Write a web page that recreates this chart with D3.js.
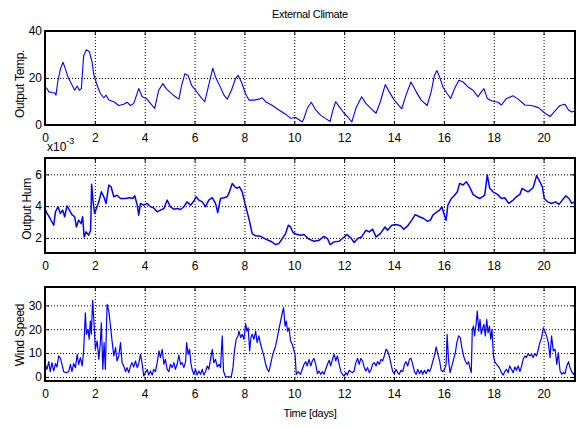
<!DOCTYPE html>
<html>
<head>
<meta charset="utf-8">
<script src="https://cdn.jsdelivr.net/npm/d3@7"></script>
<style>
  body { margin: 0; background: #fff; }
  text { font-family: Arial, "Liberation Sans", sans-serif; }
</style>
</head>
<body>
<div id="chart"></div>
<script>
// ---- data ----
const xTicks = [0, 2, 4, 6, 8, 10, 12, 14, 16, 18, 20];
const tempTicks = [0, 20, 40];
const humTicks = [2, 4, 6];          // units of 1e-3
const windTicks = [0, 10, 20, 30];

// [day, value]
const tempData = [
  [0.00,16.2],[0.08,15.5],[0.15,14.1],[0.28,13.8],[0.39,13.6],[0.44,12.7],[0.51,18.3],[0.62,23.9],[0.72,26.7],[0.82,23.9],
  [0.92,20.4],[1.06,17.6],[1.19,14.8],[1.29,16.6],[1.38,14.8],[1.46,15.5],[1.55,29.5],[1.66,32.0],[1.78,31.2],[1.89,26.7],
  [1.95,21.8],[2.09,16.9],[2.22,13.4],[2.36,11.6],[2.45,12.7],[2.56,10.6],[2.76,9.9],[2.96,8.3],[3.16,8.8],[3.29,9.7],
  [3.43,8.3],[3.56,9.2],[3.76,15.5],[3.90,12.0],[4.06,11.3],[4.23,9.2],[4.40,7.1],[4.56,14.8],[4.73,17.6],[4.86,15.5],
  [5.03,13.8],[5.23,12.0],[5.37,11.0],[5.48,16.9],[5.61,21.8],[5.74,21.1],[5.88,16.9],[6.04,14.8],[6.24,12.0],[6.41,9.9],
  [6.55,16.2],[6.73,24.2],[6.84,20.4],[6.97,17.6],[7.18,12.7],[7.31,11.0],[7.48,14.8],[7.64,19.7],[7.75,21.1],[7.88,18.3],
  [8.04,13.4],[8.18,10.6],[8.38,10.6],[8.58,11.0],[8.71,11.6],[8.85,9.9],[9.12,8.3],[9.38,6.4],[9.65,4.6],[9.85,2.9],
  [10.05,3.2],[10.19,2.2],[10.32,1.3],[10.39,2.9],[10.52,7.1],[10.68,9.7],[10.86,6.4],[11.06,4.1],[11.26,2.7],[11.44,1.5],
  [11.53,5.7],[11.66,9.9],[11.80,7.8],[12.00,5.0],[12.16,3.2],[12.31,1.3],[12.47,7.1],[12.70,12.0],[12.87,9.2],[13.07,7.1],
  [13.28,5.0],[13.45,9.9],[13.65,17.2],[13.81,14.1],[14.01,10.6],[14.31,6.9],[14.48,12.7],[14.68,18.3],[14.89,14.1],[15.09,10.6],
  [15.33,8.3],[15.49,14.1],[15.62,21.1],[15.72,23.2],[15.83,20.4],[15.96,16.2],[16.13,13.4],[16.27,11.3],[16.43,15.5],[16.60,19.0],
  [16.77,18.3],[16.97,16.2],[17.17,14.8],[17.37,12.0],[17.50,14.1],[17.61,15.5],[17.74,11.3],[17.93,10.2],[18.17,9.7],[18.31,8.5],
  [18.51,11.3],[18.78,12.4],[18.98,11.0],[19.25,8.5],[19.52,8.3],[19.79,7.4],[20.06,5.0],[20.26,3.6],[20.46,6.0],[20.66,8.3],
  [20.86,8.8],[21.00,6.4],[21.13,5.5],[21.24,6.0]
];

// humidity in units of 1e-3
const humData = [
  [0.00,3.85],[0.08,3.54],[0.17,3.33],[0.28,3.0],[0.35,2.8],[0.42,3.64],[0.52,3.96],[0.62,3.54],[0.71,3.75],[0.79,3.33],
  [0.88,4.02],[0.98,3.75],[1.08,3.47],[1.19,3.33],[1.26,2.69],[1.35,3.12],[1.45,2.9],[1.51,3.33],[1.57,2.06],[1.65,2.38],
  [1.75,2.17],[1.83,2.48],[1.87,5.37],[1.93,4.27],[1.99,3.54],[2.06,3.85],[2.16,4.27],[2.26,4.9],[2.36,4.59],[2.45,4.17],
  [2.56,5.33],[2.65,5.22],[2.76,4.59],[2.89,4.69],[3.03,4.48],[3.23,4.48],[3.39,4.53],[3.52,4.48],[3.60,4.65],[3.70,4.06],
  [3.76,3.43],[3.83,4.17],[3.96,4.06],[4.10,4.17],[4.23,3.96],[4.36,3.89],[4.50,3.64],[4.63,3.75],[4.77,3.85],[4.90,4.38],
  [5.03,3.96],[5.17,3.81],[5.30,3.85],[5.44,3.79],[5.57,3.96],[5.70,4.27],[5.84,4.06],[5.97,4.32],[6.06,4.59],[6.17,4.38],
  [6.31,4.27],[6.44,3.96],[6.57,4.38],[6.71,4.53],[6.84,4.17],[6.93,3.6],[7.04,4.48],[7.18,4.53],[7.31,4.59],[7.40,4.9],
  [7.51,5.43],[7.62,5.22],[7.71,5.12],[7.80,5.22],[7.91,4.9],[8.02,4.17],[8.11,3.64],[8.21,3.01],[8.31,2.27],[8.45,2.13],
  [8.65,2.1],[8.85,1.92],[9.05,1.79],[9.25,1.58],[9.38,1.64],[9.52,1.96],[9.65,2.27],[9.76,2.8],[9.85,2.69],[9.95,2.34],
  [10.12,2.21],[10.25,2.17],[10.39,2.21],[10.59,1.92],[10.79,1.79],[10.99,1.85],[11.19,2.1],[11.33,1.96],[11.44,1.58],[11.60,1.75],
  [11.80,1.79],[12.00,2.06],[12.11,2.21],[12.27,2.0],[12.40,1.71],[12.54,1.96],[12.70,2.06],[12.87,2.48],[13.01,2.38],[13.14,2.55],
  [13.28,2.06],[13.45,2.27],[13.64,2.69],[13.74,2.48],[13.91,2.8],[14.08,2.84],[14.26,2.76],[14.39,2.55],[14.55,2.76],[14.71,3.12],
  [14.85,3.47],[15.02,3.33],[15.19,3.22],[15.33,3.05],[15.46,3.12],[15.56,3.43],[15.69,3.6],[15.83,3.75],[15.92,3.96],[16.00,3.54],
  [16.09,3.12],[16.16,4.06],[16.30,4.48],[16.43,4.69],[16.54,4.9],[16.63,5.43],[16.77,5.33],[16.90,5.54],[17.03,5.22],[17.17,4.74],
  [17.30,4.59],[17.44,4.48],[17.64,4.69],[17.74,5.96],[17.84,5.12],[17.97,4.9],[18.15,4.74],[18.31,4.48],[18.44,4.53],[18.60,4.17],
  [18.78,4.38],[18.91,4.59],[19.05,4.74],[19.14,5.12],[19.25,5.01],[19.38,4.9],[19.58,5.16],[19.72,5.92],[19.85,5.54],[19.95,5.22],
  [20.03,4.48],[20.16,4.27],[20.32,4.17],[20.48,4.27],[20.62,4.11],[20.75,4.38],[20.89,4.65],[21.02,4.48],[21.13,4.17],[21.24,4.27]
];

const windData = [
  [0.01,5.3],[0.08,3.2],[0.15,6.4],[0.21,2.2],[0.28,6.0],[0.35,2.5],[0.42,5.6],[0.48,4.2],[0.55,8.8],[0.62,7.8],
  [0.68,5.3],[0.75,2.2],[0.84,1.8],[0.95,2.2],[1.02,5.3],[1.08,2.2],[1.15,5.6],[1.22,3.9],[1.29,9.5],[1.35,5.3],
  [1.42,8.1],[1.49,4.6],[1.55,10.9],[1.62,26.9],[1.66,17.9],[1.73,19.9],[1.77,15.8],[1.82,23.4],[1.86,17.9],[1.91,32.1],
  [1.97,22.0],[2.02,11.6],[2.09,15.1],[2.16,7.4],[2.22,14.4],[2.26,22.7],[2.32,3.2],[2.37,14.4],[2.42,3.2],[2.49,30.4],
  [2.56,27.6],[2.62,22.0],[2.69,15.1],[2.76,8.8],[2.83,12.3],[2.89,6.7],[2.96,8.8],[3.03,14.4],[3.09,6.0],[3.16,4.6],
  [3.23,2.2],[3.29,3.9],[3.36,1.8],[3.43,4.6],[3.49,6.0],[3.56,4.2],[3.63,6.7],[3.70,3.9],[3.76,5.6],[3.83,9.5],
  [3.90,5.3],[3.96,0.4],[4.03,1.8],[4.10,3.2],[4.16,0.8],[4.23,2.5],[4.30,0.8],[4.36,3.2],[4.43,2.2],[4.50,6.0],
  [4.57,10.9],[4.63,8.1],[4.70,11.6],[4.77,5.3],[4.83,7.4],[4.90,3.2],[4.97,2.2],[5.03,5.3],[5.10,3.9],[5.17,6.0],
  [5.23,3.2],[5.30,5.3],[5.37,9.2],[5.44,5.3],[5.50,6.0],[5.57,3.9],[5.64,6.4],[5.68,14.4],[5.74,9.5],[5.80,11.6],
  [5.85,6.0],[5.90,3.2],[5.97,1.1],[6.04,3.2],[6.10,0.8],[6.17,2.5],[6.24,1.1],[6.31,3.2],[6.37,0.8],[6.44,2.2],
  [6.51,4.6],[6.57,3.2],[6.64,7.4],[6.71,11.6],[6.77,6.0],[6.84,7.4],[6.91,4.2],[6.98,5.3],[7.04,3.9],[7.11,17.2],
  [7.16,2.5],[7.24,0],[7.38,0],[7.47,0],[7.54,3.9],[7.60,10.9],[7.67,15.8],[7.74,17.2],[7.78,19.2],[7.85,16.5],
  [7.91,17.9],[7.98,15.8],[8.05,22.3],[8.10,19.2],[8.15,20.6],[8.21,10.9],[8.26,16.5],[8.31,17.9],[8.38,15.8],[8.45,19.2],
  [8.51,14.4],[8.58,17.2],[8.65,13.7],[8.72,10.9],[8.78,8.8],[8.85,5.3],[8.92,3.2],[8.98,2.2],[9.05,5.3],[9.12,8.8],
  [9.18,10.9],[9.25,13.0],[9.32,16.5],[9.38,19.9],[9.45,23.4],[9.52,26.9],[9.57,29.0],[9.63,21.3],[9.68,23.4],[9.73,19.2],
  [9.79,20.6],[9.85,15.1],[9.92,13.7],[9.99,10.9],[10.03,9.5],[10.08,1.1],[10.16,2.2],[10.25,1.1],
  [10.39,5.3],[10.46,6.4],[10.52,4.6],[10.59,7.4],[10.66,4.6],[10.72,6.7],[10.79,7.8],[10.86,5.3],[10.93,1.4],[10.99,2.5],
  [11.06,1.1],[11.13,2.2],[11.19,1.1],[11.26,3.2],[11.33,5.3],[11.40,7.0],[11.46,4.6],[11.53,7.4],[11.60,9.5],[11.66,6.7],
  [11.73,8.8],[11.80,5.3],[11.87,2.2],[11.93,1.1],[12.00,0.4],[12.07,1.8],[12.13,0.8],[12.20,2.8],[12.27,2.2],[12.34,1.8],
  [12.40,2.5],[12.47,6.0],[12.54,7.8],[12.60,5.3],[12.67,7.8],[12.74,6.7],[12.81,3.9],[12.87,2.5],[12.94,3.9],[13.01,1.8],
  [13.07,2.8],[13.14,5.3],[13.21,6.0],[13.28,4.6],[13.34,6.4],[13.41,5.3],[13.48,7.4],[13.54,6.7],[13.61,8.8],[13.68,11.6],
  [13.74,10.9],[13.81,8.8],[13.88,5.3],[13.95,2.2],[14.01,1.4],[14.08,3.2],[14.15,1.8],[14.21,1.1],[14.28,2.8],[14.35,2.2],
  [14.42,5.3],[14.48,6.4],[14.55,4.6],[14.62,7.4],[14.68,7.8],[14.75,5.3],[14.82,2.2],[14.89,1.1],[14.95,3.2],[15.02,1.4],
  [15.09,2.8],[15.15,1.1],[15.22,2.8],[15.29,1.4],[15.36,3.2],[15.42,2.2],[15.49,3.9],[15.56,6.7],[15.62,8.8],[15.69,12.6],
  [15.76,9.5],[15.83,6.7],[15.89,2.8],[15.96,2.2],[16.03,3.2],[16.09,5.3],[16.13,17.9],[16.19,6.7],[16.25,1.8],[16.32,4.6],
  [16.39,7.4],[16.46,10.2],[16.52,14.4],[16.59,17.2],[16.66,16.5],[16.72,12.3],[16.79,8.8],[16.86,6.7],[16.93,5.3],[16.99,6.4],
  [17.06,3.2],[17.10,1.8],[17.14,19.9],[17.19,21.3],[17.23,17.2],[17.29,22.0],[17.34,27.6],[17.40,19.2],[17.45,24.1],[17.50,17.9],
  [17.56,20.6],[17.61,22.0],[17.66,17.2],[17.72,24.1],[17.77,18.5],[17.83,21.3],[17.88,15.8],[17.93,19.9],[17.99,8.8],[18.04,6.4],
  [18.11,5.3],[18.17,4.6],[18.24,3.6],[18.31,1.8],[18.38,0.8],[18.44,2.2],[18.51,3.2],[18.58,1.8],[18.64,4.6],[18.71,3.2],
  [18.78,1.8],[18.85,4.2],[18.91,2.8],[18.98,4.6],[19.05,2.2],[19.11,4.2],[19.18,7.4],[19.25,8.8],[19.31,8.1],[19.38,9.8],
  [19.45,8.8],[19.52,9.5],[19.58,8.1],[19.65,9.8],[19.72,8.8],[19.79,11.6],[19.85,14.4],[19.92,16.5],[19.99,20.6],[20.05,19.2],
  [20.12,17.2],[20.19,14.4],[20.26,8.1],[20.32,17.2],[20.39,10.9],[20.46,11.6],[20.53,5.3],[20.59,10.2],[20.66,2.5],[20.73,1.1],
  [20.79,1.8],[20.86,1.4],[20.93,4.6],[21.00,6.4],[21.06,3.9],[21.13,2.2],[21.20,1.1],[21.24,1.8]
];

// ---- layout ----
const width = 579, height = 428;
const left = 45, right = 575;

const svg = d3.select("#chart")
  .append("svg")
  .attr("width", width)
  .attr("height", height);

const x = d3.scaleLinear().domain([0, 21.26]).range([left, right]);

const panels = [
  { data: tempData, top: 31, bottom: 125, domain: [0, 40], ticks: tempTicks, label: "Output Temp.", lx: 24, ly: 84, lw: 1.1 },
  { data: humData, top: 158, bottom: 253, domain: [1.05, 7.03], ticks: humTicks, label: "Output Hum", lx: 31, ly: 209, lw: 1.5 },
  { data: windData, top: 287, bottom: 381, domain: [-1.7, 37.7], ticks: windTicks, label: "Wind Speed", lx: 24, ly: 335, lw: 1.2 }
];

function styleGrid(g) {
  g.select(".domain").remove();
  g.selectAll("line")
    .attr("stroke", "#000")
    .attr("stroke-width", 1)
    .attr("stroke-dasharray", "1,2");
}

function styleAxis(g) {
  g.select(".domain").remove();
  g.selectAll("line").attr("stroke", "#000").attr("stroke-width", 1);
  g.selectAll("text").attr("font-size", 12).attr("fill", "#000");
}

panels.forEach(p => {
  const y = d3.scaleLinear().domain(p.domain).range([p.bottom, p.top]);
  const h = p.bottom - p.top;
  const g = svg.append("g");

  // dotted grid
  g.append("g")
    .attr("transform", `translate(0,${p.bottom})`)
    .call(d3.axisBottom(x).tickValues(xTicks).tickSize(-h).tickFormat(""))
    .call(styleGrid);
  g.append("g")
    .attr("transform", `translate(${left},0)`)
    .call(d3.axisLeft(y).tickValues(p.ticks).tickSize(-(right - left)).tickFormat(""))
    .call(styleGrid);

  // series
  const line = d3.line().x(d => x(d[0])).y(d => y(d[1]));
  g.append("path")
    .datum(p.data)
    .attr("fill", "none")
    .attr("stroke", "#0000ff")
    .attr("stroke-width", p.lw)
    .attr("stroke-linejoin", "round")
    .attr("d", line);

  // inner ticks + labels
  g.append("g")
    .attr("transform", `translate(0,${p.bottom})`)
    .call(d3.axisBottom(x).tickValues(xTicks).tickSize(-4).tickPadding(8).tickFormat(d3.format("d")))
    .call(styleAxis);
  g.append("g")
    .attr("transform", `translate(0,${p.top})`)
    .call(d3.axisTop(x).tickValues(xTicks).tickSize(-4).tickFormat(""))
    .call(styleAxis);
  g.append("g")
    .attr("transform", `translate(${left},0)`)
    .call(d3.axisLeft(y).tickValues(p.ticks).tickSize(-4).tickPadding(3).tickFormat(d3.format("d")))
    .call(styleAxis);
  g.append("g")
    .attr("transform", `translate(${right},0)`)
    .call(d3.axisRight(y).tickValues(p.ticks).tickSize(-4).tickFormat(""))
    .call(styleAxis);

  // box
  g.append("rect")
    .attr("x", left).attr("y", p.top)
    .attr("width", right - left).attr("height", h)
    .attr("fill", "none")
    .attr("stroke", "#000")
    .attr("stroke-width", 2);

  // y label
  g.append("text")
    .attr("transform", `translate(${p.lx},${p.ly}) rotate(-90)`)
    .attr("text-anchor", "middle")
    .attr("font-size", 12)
    .attr("letter-spacing", "-0.3")
    .text(p.label);
});

// exponent note for humidity
const expo = svg.append("text")
  .attr("x", 47).attr("y", 151)
  .attr("font-size", 12);
expo.append("tspan").text("x10");
expo.append("tspan").attr("font-size", 9).attr("dy", -7).text("-3");

// title and x label
svg.append("text")
  .attr("x", (left + right) / 2).attr("y", 18)
  .attr("text-anchor", "middle")
  .attr("font-size", 11)
  .attr("letter-spacing", "-0.3")
  .text("External Climate");

svg.append("text")
  .attr("x", (left + right) / 2).attr("y", 417)
  .attr("text-anchor", "middle")
  .attr("font-size", 11)
  .attr("letter-spacing", "-0.3")
  .text("Time [days]");
</script>
</body>
</html>
